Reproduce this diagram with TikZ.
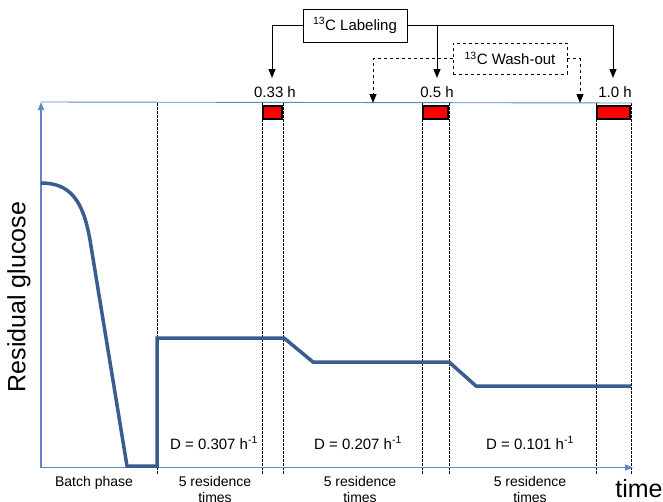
\documentclass[tikz,border=0pt]{standalone}
\usepackage{fontspec}
\setmainfont{Liberation Sans}
\usetikzlibrary{arrows.meta}
\definecolor{axisblue}{RGB}{91,137,198}
\definecolor{curveblue}{RGB}{56,93,143}
\begin{document}
\begin{tikzpicture}[x=1pt,y=-1pt,
  lbl/.style={font=\fontsize{15}{17}\selectfont, inner sep=0pt},
  blbl/.style={font=\fontsize{14}{16}\selectfont, align=center, inner sep=0pt, anchor=north},
  big/.style={font=\fontsize{25}{28}\selectfont, inner sep=0pt},
  guide/.style={draw=black, line width=0.6pt, dash pattern=on 2.5pt off 1.5pt},
  markbox/.style={draw=black, fill=red, line width=2.5pt, inner sep=0pt, minimum height=13pt},
  callout/.style={draw=black, line width=0.8pt, fill=white, font=\fontsize{15}{17}\selectfont, inner sep=0pt},
  conn/.style={draw=black, line width=1pt, -{Triangle[length=9pt,width=7pt]}},
  axisline/.style={draw=axisblue, line width=1.4pt, -{Triangle[length=8pt,width=6pt]}},
  curve/.style={draw=curveblue, line width=3.5pt, line join=miter}
]
\useasboundingbox (0,0) rectangle (663,501);

% guide lines
\foreach \gx in {157,262,283,422,449,596,631}
  \draw[guide] (\gx,103) -- (\gx,474);

% top line and axes
\coordinate (o) at (41,467.5);
\coordinate (ytop) at (41,102);
\coordinate (xend) at (633,467.5);
\coordinate (tr) at (632,103);
\draw[axisblue, line width=0.9pt] (ytop) -- (tr);
\draw[axisline] (o) -- (ytop);
\draw[axisline] (o) -- (xend);

% glucose curve
\draw[curve] (41,183) .. controls (70,183) and (83,200) .. (90,240)
  -- (127,466) -- (157,466) -- (157,338) -- (284,338) -- (313,362)
  -- (449,362) -- (476,386) -- (631,386);

% sampling boxes
\node[markbox, minimum width=19pt] (m1) at (272.5,112.5) {};
\node[markbox, minimum width=25pt] (m2) at (435.5,112.5) {};
\node[markbox, minimum width=33pt] (m3) at (613.5,112.5) {};

% time labels
\node[lbl] (l1) at (275,92) {0.33 h};
\node[lbl] (l2) at (437,92) {0.5 h};
\node[lbl] (l3) at (615,92) {1.0 h};

% callouts
\node[callout, minimum width=104pt, minimum height=33pt] (lab) at (355,25.5) {\textsuperscript{13}C Labeling};
\node[callout, dashed, minimum width=114pt, minimum height=31pt] (wash) at (510,58.5) {\textsuperscript{13}C Wash-out};

\coordinate (a1) at (272,78);
\coordinate (a2) at (437,78);
\coordinate (a3) at (613,78);
\draw[conn] (lab.west) -| (a1);
\draw[conn] (lab.east) -| (a3);
\draw[conn] (lab.east -| a2) -- (a2);

\coordinate (w1) at (373,103);
\coordinate (w2) at (580,103);
\draw[conn, dashed] (wash.west) -| (w1);
\draw[conn, dashed] (wash.east) -| (w2);

% dilution labels
\node[lbl] (d1) at (214,443) {D = 0.307 h\textsuperscript{-1}};
\node[lbl] (d2) at (358,443) {D = 0.207 h\textsuperscript{-1}};
\node[lbl] (d3) at (530,443) {D = 0.101 h\textsuperscript{-1}};

% phase labels
\node[blbl] (p0) at (94,476) {Batch phase};
\node[blbl] (p1) at (215,476) {5 residence\\times};
\node[blbl] (p2) at (360,476) {5 residence\\times};
\node[blbl] (p3) at (530,476) {5 residence\\times};

% axis titles
\node[big, rotate=90] (ylab) at (19,297) {Residual glucose};
\node[big] (xlab) at (639,489) {time};
\end{tikzpicture}
\end{document}
